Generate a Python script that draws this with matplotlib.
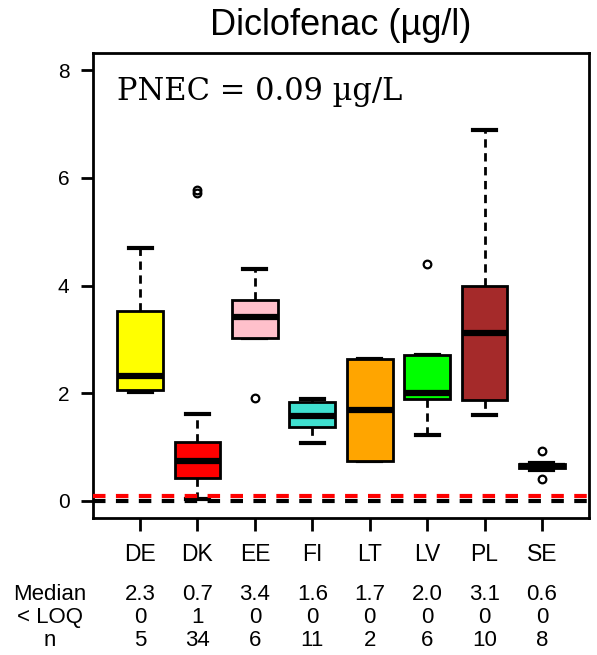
import numpy as np
import matplotlib
matplotlib.use("Agg")
import matplotlib.pyplot as plt
import matplotlib.transforms as mtransforms

plt.rcParams['font.family'] = ['Liberation Sans', 'DejaVu Sans']

# data
countries = ["DE", "DK", "EE", "FI", "LT", "LV", "PL", "SE"]
colors = ["#FFFF00", "#FF0000", "#FFC0CB", "#40E0D0", "#FFA500", "#00FF00", "#A52A2A", "#4169E1"]
whislo = [2.03, 0.03, 3.03, 1.07, 0.74, 1.22, 1.59, 0.58]
q1 = [2.06, 0.43, 3.03, 1.38, 0.74, 1.90, 1.87, 0.60]
med = [2.31, 0.74, 3.42, 1.58, 1.69, 2.01, 3.11, 0.64]
q3 = [3.53, 1.10, 3.73, 1.83, 2.64, 2.71, 3.99, 0.69]
whishi = [4.70, 1.62, 4.31, 1.90, 2.64, 2.71, 6.89, 0.71]
fliers = [[], [5.72, 5.78], [1.91], [], [], [4.40], [], [0.40, 0.92]]
below_loq = [0, 1, 0, 0, 0, 0, 0, 0]
n_samples = [5, 34, 6, 11, 2, 6, 10, 8]
pnec = 0.09

stats = []
for i in range(len(countries)):
    stats.append(dict(label=countries[i], whislo=whislo[i], q1=q1[i], med=med[i],
                      q3=q3[i], whishi=whishi[i], fliers=fliers[i]))

fig = plt.figure(figsize=(5.97, 6.55), dpi=100)
ax = fig.add_axes([93/597, 1-518/655, 496/597, 465/655])

pos = np.arange(1, len(countries)+1)
bp = ax.bxp(stats, positions=pos, widths=0.8, patch_artist=True, capwidths=0.4,
            boxprops=dict(linewidth=2, edgecolor='black', zorder=3),
            medianprops=dict(linewidth=4.5, color='black', solid_capstyle='butt', zorder=4),
            whiskerprops=dict(linewidth=2, linestyle=(0, (3, 2)), color='black', zorder=2),
            capprops=dict(linewidth=3, color='black', zorder=2),
            flierprops=dict(marker='o', markersize=5.5, markerfacecolor='none',
                            markeredgecolor='black', markeredgewidth=1.6))
for b, c in zip(bp['boxes'], colors):
    b.set_facecolor(c)

# zero line and PNEC line
ax.axhline(0, color='black', linewidth=3, linestyle=(0, (3, 2.5)), zorder=5)
ax.axhline(pnec, color='red', linewidth=3, linestyle=(0, (3, 2.5)), zorder=6)

ax.set_xlim(0.18, 8.82)
ax.set_ylim(-0.32, 8.32)
ax.set_yticks([0, 2, 4, 6, 8])
ax.set_xticks(pos)
ax.set_xticklabels(countries, fontsize=16.5)
ax.tick_params(axis='y', labelsize=15, length=9, width=2, pad=8)
ax.tick_params(axis='x', length=9, width=2, pad=9)
for s in ax.spines.values():
    s.set_linewidth(2)

ax.set_title("Diclofenac (µg/l)", fontsize=26, pad=13)
ax.text(0.59, 7.45, "PNEC = 0.09 µg/L", family='DejaVu Serif', fontsize=22,
        ha='left', va='baseline')

# summary table under the axis
trans = mtransforms.blended_transform_factory(ax.transData, fig.transFigure)
row_y = [1-599.5/655, 1-622.8/655, 1-646/655]
row_names = ["Median", "< LOQ", "n"]
for name, y in zip(row_names, row_y):
    fig.text(50/597, y, name, fontsize=16, ha='center', va='baseline')
for i in range(len(countries)):
    ax.text(pos[i], row_y[0], "%.1f" % med[i], transform=trans, fontsize=16,
            ha='center', va='baseline')
    ax.text(pos[i], row_y[1], str(below_loq[i]), transform=trans, fontsize=16,
            ha='center', va='baseline')
    ax.text(pos[i], row_y[2], str(n_samples[i]), transform=trans, fontsize=16,
            ha='center', va='baseline')

fig.savefig("out.png", dpi=100)
